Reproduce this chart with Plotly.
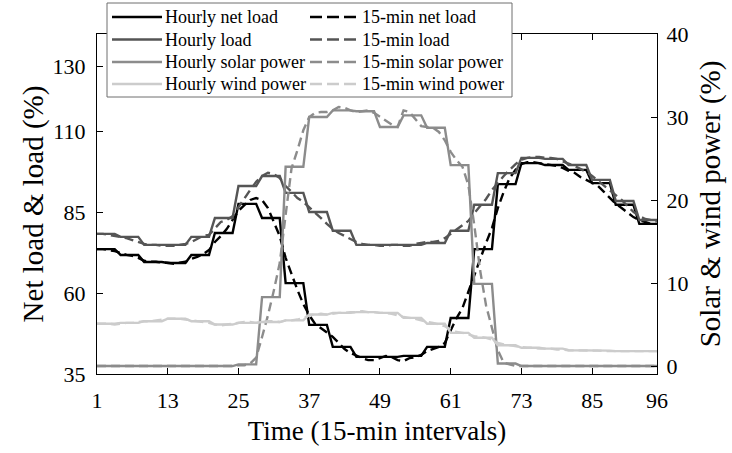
import plotly.graph_objects as go

# ---- data -------------------------------------------------------------
intervals = list(range(1, 97))
x_ticks = [1, 13, 25, 37, 49, 61, 73, 85, 96]
left_ticks = [35, 60, 85, 110, 130]
right_ticks = [0, 10, 20, 30, 40]

# hourly profiles (one value per hour, 24 hours)
hourly_net_load = [73.6, 71.8, 69.6, 69.3, 71.8, 78.6, 87.6, 83.2, 63.1, 50.2, 43.4, 40.3,
                   40.3, 40.6, 43.4, 52.3, 73.6, 93.7, 100.2, 99.6, 98.1, 94.0, 87.3, 81.4]
hourly_load = [78.3, 77.4, 74.9, 74.9, 77.4, 83.2, 93.1, 96.2, 91.0, 85.1, 79.3, 74.9,
               74.9, 74.9, 75.5, 79.3, 87.3, 97.1, 101.8, 101.5, 99.6, 95.0, 88.5, 82.6]
hourly_solar = [0.0, 0.0, 0.0, 0.0, 0.0, 0.0, 0.2, 8.3, 24.0, 30.0, 30.8, 30.7,
                28.8, 30.2, 28.7, 24.2, 9.9, 0.3, 0.0, 0.0, 0.0, 0.0, 0.0, 0.0]
hourly_wind = [5.1, 5.2, 5.4, 5.7, 5.4, 5.0, 5.2, 5.3, 5.5, 6.2, 6.4, 6.5,
               6.4, 5.8, 5.1, 4.0, 3.4, 2.5, 2.2, 2.1, 1.9, 1.85, 1.8, 1.8]

# 15-minute profiles (96 intervals)
min15_net_load = [73.6, 73.6, 73.3, 73.0, 72.4, 71.8, 71.5, 70.9, 70.0, 69.7, 69.7, 69.4,
                  69.4, 69.1, 69.4, 69.7, 70.6, 71.2, 72.1, 73.3, 75.8, 77.6, 79.8, 82.6,
                  85.4, 87.2, 88.8, 89.4, 88.8, 86.3, 82.0, 77.6, 70.9, 65.6, 61.0, 56.6,
                  53.2, 50.5, 49.2, 48.0, 46.5, 44.6, 42.7, 41.5, 40.6, 39.9, 39.3, 39.3,
                  39.9, 40.6, 40.2, 39.3, 39.0, 39.9, 40.2, 40.9, 42.1, 42.7, 43.4, 44.6,
                  48.6, 52.3, 55.4, 60.4, 66.0, 70.9, 75.5, 80.1, 86.3, 91.3, 95.6, 98.1,
                  99.9, 100.5, 100.5, 100.2, 99.9, 99.6, 99.3, 98.7, 97.8, 97.2, 95.9, 95.0,
                  94.1, 93.1, 91.3, 89.4, 87.6, 86.3, 84.8, 83.5, 82.6, 82.0, 81.4, 81.4]
min15_load = [78.3, 78.3, 78.0, 77.7, 77.4, 77.0, 76.4, 75.8, 75.2, 74.9, 74.9, 74.6,
              74.6, 74.6, 74.9, 75.2, 75.8, 76.7, 77.7, 78.0, 80.1, 82.0, 82.6, 83.8,
              86.6, 89.4, 91.9, 94.4, 96.2, 97.2, 96.8, 95.6, 93.1, 91.3, 89.4, 88.2,
              86.6, 85.1, 83.2, 81.4, 79.8, 78.6, 77.7, 76.7, 75.8, 75.2, 74.9, 74.9,
              74.6, 74.6, 74.9, 74.9, 74.6, 74.6, 75.2, 75.5, 75.8, 75.8, 76.1, 77.0,
              78.3, 79.5, 80.8, 82.3, 84.7, 86.9, 89.1, 91.9, 94.1, 96.2, 98.1, 99.9,
              101.2, 101.8, 102.1, 102.1, 101.8, 101.8, 101.5, 100.8, 99.9, 99.3, 98.4, 97.5,
              96.2, 94.7, 93.1, 91.6, 90.0, 88.8, 86.9, 85.1, 83.8, 82.9, 82.6, 82.3]
min15_solar = [0.0, 0.0, 0.0, 0.0, 0.0, 0.0, 0.0, 0.0, 0.0, 0.0, 0.0, 0.0,
               0.0, 0.0, 0.0, 0.0, 0.0, 0.0, 0.0, 0.0, 0.0, 0.0, 0.0, 0.0,
               0.1, 0.1, 0.3, 1.0, 3.5, 6.1, 9.1, 12.4, 18.2, 23.8, 26.0, 28.4,
               30.0, 30.5, 30.6, 30.6, 30.8, 31.2, 31.1, 30.8, 30.6, 30.7, 30.8, 30.5,
               30.0, 29.6, 29.1, 28.8, 30.8, 30.6, 29.8, 28.9, 28.8, 28.7, 28.2, 27.2,
               25.8, 24.8, 24.0, 21.8, 17.0, 11.5, 7.3, 4.5, 1.9, 0.4, 0.2, 0.0,
               0.0, 0.0, 0.0, 0.0, 0.0, 0.0, 0.0, 0.0, 0.0, 0.0, 0.0, 0.0,
               0.0, 0.0, 0.0, 0.0, 0.0, 0.0, 0.0, 0.0, 0.0, 0.0, 0.0, 0.0]
min15_wind = [5.1, 5.1, 5.1, 5.0, 5.1, 5.2, 5.2, 5.3, 5.4, 5.4, 5.5, 5.6,
              5.7, 5.7, 5.7, 5.6, 5.5, 5.4, 5.3, 5.2, 5.0, 4.9, 5.0, 5.1,
              5.2, 5.3, 5.3, 5.2, 5.3, 5.4, 5.4, 5.3, 5.5, 5.5, 5.6, 5.8,
              6.1, 6.2, 6.3, 6.2, 6.3, 6.4, 6.4, 6.5, 6.5, 6.6, 6.5, 6.5,
              6.4, 6.4, 6.3, 6.1, 5.9, 5.8, 5.7, 5.5, 5.3, 5.2, 5.0, 4.8,
              4.4, 4.1, 4.0, 3.8, 3.6, 3.5, 3.4, 3.2, 2.8, 2.6, 2.5, 2.4,
              2.3, 2.2, 2.2, 2.1, 2.1, 2.1, 2.0, 2.0, 1.9, 1.9, 1.9, 1.85,
              1.85, 1.85, 1.8, 1.8, 1.8, 1.8, 1.8, 1.8, 1.8, 1.8, 1.8, 1.8]

# ---- styling ------------------------------------------------------------
FONT = "Liberation Serif"
NET, LOAD, SOLAR, WIND = "#000000", "#555555", "#8c8c8c", "#cccccc"
LW = 2.4
DASH = "9px,5px"
LEGEND_DASH = "12px,5px"


def per_interval(hourly):
    """Hold each hourly value over its four 15-minute intervals."""
    return [v for v in hourly for _ in range(4)]


series = [
    ("Hourly net load", per_interval(hourly_net_load), NET, "solid", "y"),
    ("15-min net load", min15_net_load, NET, DASH, "y"),
    ("Hourly load", per_interval(hourly_load), LOAD, "solid", "y"),
    ("15-min load", min15_load, LOAD, DASH, "y"),
    ("Hourly solar power", per_interval(hourly_solar), SOLAR, "solid", "y2"),
    ("15-min solar power", min15_solar, SOLAR, DASH, "y2"),
    ("Hourly wind power", per_interval(hourly_wind), WIND, "solid", "y2"),
    ("15-min wind power", min15_wind, WIND, DASH, "y2"),
]

fig = go.Figure()
for name, vals, color, dash, axis in series:
    fig.add_trace(go.Scatter(
        x=intervals, y=vals, name=name, mode="lines", yaxis=axis,
        line=dict(color=color, width=LW, dash=dash), showlegend=False,
    ))

# ---- legend box (two columns: hourly | 15-min) ---------------------------
PW, PH, PL, PT = 560, 340, 97, 34


def px(xp):
    return (xp - PL) / PW


def py(yp):
    return (PT + PH - yp) / PH


shapes = [dict(type="rect", xref="paper", yref="paper",
               x0=px(107), x1=px(512), y0=py(97), y1=py(3),
               line=dict(color="#6e6e6e", width=1), fillcolor="white", layer="above")]
annotations = []
rows_y = [17, 39.5, 62, 84]
col_line = [(112, 162), (310, 358)]
col_text = [163, 360]
for k, (name, vals, color, dash, axis) in enumerate(series):
    row, col = k // 2, k % 2
    yy = py(rows_y[row])
    x0, x1 = col_line[col]
    shapes.append(dict(type="line", xref="paper", yref="paper",
                       x0=px(x0), x1=px(x1), y0=yy, y1=yy, layer="above",
                       line=dict(color=color, width=LW,
                                 dash="solid" if dash == "solid" else LEGEND_DASH)))
    annotations.append(dict(text=name, xref="paper", yref="paper",
                            x=px(col_text[col]), y=yy, xanchor="left", yanchor="middle",
                            showarrow=False, font=dict(family=FONT, size=18, color="black")))

axis_common = dict(showgrid=False, zeroline=False, showline=True, linecolor="black",
                   linewidth=1.2, ticks="inside", ticklen=6, tickwidth=1, tickcolor="black",
                   tickfont=dict(family=FONT, size=22, color="black"))

fig.update_layout(
    width=732, height=453,
    margin=dict(l=PL, r=732 - PL - PW, t=PT, b=453 - PT - PH),
    paper_bgcolor="white", plot_bgcolor="white",
    font=dict(family=FONT, color="black"),
    shapes=shapes, annotations=annotations,
    showlegend=False,
    xaxis=dict(**axis_common, range=[1, 96], tickvals=x_ticks, mirror="ticks",
               ticklabelstandoff=6,
               title=dict(text="Time (15-min intervals)", font=dict(family=FONT, size=27),
                          standoff=9)),
    yaxis=dict(**axis_common, range=[35, 140.1], tickvals=left_ticks,
               ticklabelstandoff=6,
               title=dict(text="Net load & load (%)", font=dict(family=FONT, size=29),
                          standoff=0)),
    yaxis2=dict(**axis_common, range=[-0.96, 40], tickvals=right_ticks, overlaying="y",
                side="right", ticklabelstandoff=4,
                title=dict(text="Solar & wind power (%)", font=dict(family=FONT, size=29),
                           standoff=12)),
)

fig.write_html("out.html")
